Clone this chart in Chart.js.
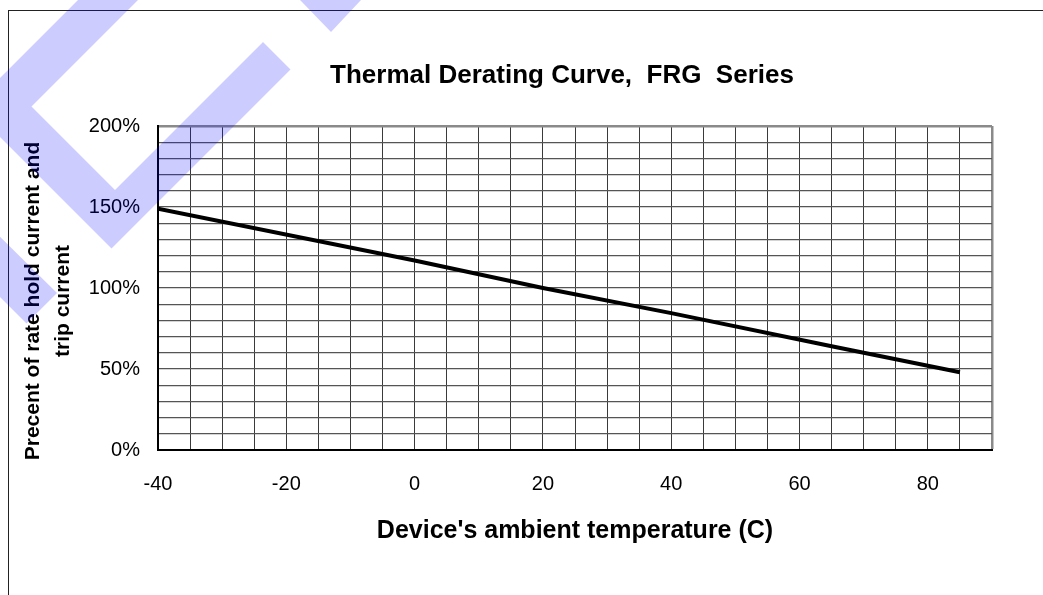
<!DOCTYPE html>
<html lang="en">
<head>
    <meta charset="UTF-8">
    <title>Thermal Derating Curve, FRG Series</title>
    <script src="https://cdn.jsdelivr.net/npm/chart.js"></script>
    <style>
        body {
            margin: 0;
            width: 1043px;
            height: 595px;
            overflow: hidden;
            background: #fff;
            position: relative;
            font-family: "Liberation Sans", Arial, sans-serif;
        }

        #frame {
            position: absolute;
            left: 8px;
            top: 10px;
            width: 1200px;
            height: 800px;
            border-left: 1.5px solid #222;
            border-top: 1.5px solid #222;
        }

        #derating {
            position: absolute;
            left: 0;
            top: 0;
        }

        /* translucent blue stamp laid over the whole picture */
        #stamp {
            position: absolute;
            left: 0;
            top: 0;
            pointer-events: none;
        }
    </style>
</head>
<body>
    <div id="frame"></div>
    <canvas id="derating" width="1043" height="595"></canvas>
    <svg id="stamp" width="1043" height="595">
        <g fill="rgba(0,0,255,0.2)">
            <polygon points="78,0 138,0 31.5,106.5 115,190 263,42 290.5,69.5 111.5,248.5 -29.5,107.5"/>
            <polygon points="300,0 331,32 361,0"/>
            <polygon points="-20,217 57,293 26.5,323.5 -20,277"/>
        </g>
    </svg>

    <script>
        // values
        const temps = [-40, 0, 20, 40, 65, 85];
        const percents = [149, 117, 100, 84.5, 64, 48];

        const xTickLabels = [-40, -20, 0, 20, 40, 60, 80];
        const yTickLabels = [0, 50, 100, 150, 200];

        const chartTitle = 'Thermal Derating Curve,  FRG  Series';
        const xTitle = "Device's ambient temperature (C)";
        const yTitle = ['Precent of rate hold current and', 'trip current'];

        const font = '"Liberation Sans", Arial, sans-serif';

        const points = temps.map((t, i) => ({ x: t, y: percents[i] }));

        // titles are placed by hand so they sit where the original put them
        const headings = {
            id: 'headings',
            afterDraw(chart) {
                const ctx = chart.ctx;
                const area = chart.chartArea;
                ctx.save();
                ctx.fillStyle = '#000';
                ctx.textAlign = 'center';
                ctx.textBaseline = 'middle';

                ctx.font = 'bold 26px ' + font;
                ctx.fillText(chartTitle, area.left + 404, 76);

                ctx.font = 'bold 25px ' + font;
                ctx.fillText(xTitle, (area.left + area.right) / 2, 531);

                ctx.font = 'bold 21px ' + font;
                ctx.translate(33, 301);
                ctx.rotate(-Math.PI / 2);
                yTitle.forEach((line, i) => ctx.fillText(line, 0, i * 30));
                ctx.restore();
            }
        };

        const ctx = document.getElementById('derating').getContext('2d');

        const chart = new Chart(ctx, {
            type: 'line',
            data: {
                datasets: [{
                    data: points,
                    borderColor: '#000',
                    borderWidth: 4,
                    pointRadius: 0,
                    tension: 0,
                    fill: false,
                }],
            },
            options: {
                responsive: false,
                animation: false,
                layout: {
                    padding: { top: 126, right: 51, left: 0, bottom: 0 },
                },
                plugins: {
                    legend: { display: false },
                    tooltip: { enabled: false },
                },
                scales: {
                    x: {
                        type: 'linear',
                        min: -40,
                        max: 90,
                        afterFit: (scale) => { scale.height = 145; },
                        ticks: {
                            stepSize: 5,
                            autoSkip: false,
                            maxRotation: 0,
                            padding: 22,
                            color: '#000',
                            font: { family: font, size: 20 },
                            callback: (v) => xTickLabels.includes(v) ? String(v) : '',
                        },
                        grid: {
                            drawTicks: false,
                            color: (c) => c.tick && c.tick.value === 90 ? '#8a8a8a' : '#3a3a3a',
                            lineWidth: (c) => c.tick && c.tick.value === 90 ? 2.5 : 1,
                        },
                        border: { color: '#000', width: 2 },
                    },
                    y: {
                        min: 0,
                        max: 200,
                        afterFit: (scale) => { scale.width = 158; },
                        ticks: {
                            stepSize: 10,
                            autoSkip: false,
                            padding: 18,
                            color: '#000',
                            font: { family: font, size: 20 },
                            callback: (v) => yTickLabels.includes(v) ? v + '%' : '',
                        },
                        grid: {
                            drawTicks: false,
                            color: (c) => c.tick && c.tick.value === 200 ? '#8a8a8a' : '#555',
                            lineWidth: (c) => c.tick && c.tick.value === 200 ? 2.5 : 1.3,
                        },
                        border: { color: '#000', width: 2 },
                    },
                },
            },
            plugins: [headings],
        });
    </script>
</body>
</html>
